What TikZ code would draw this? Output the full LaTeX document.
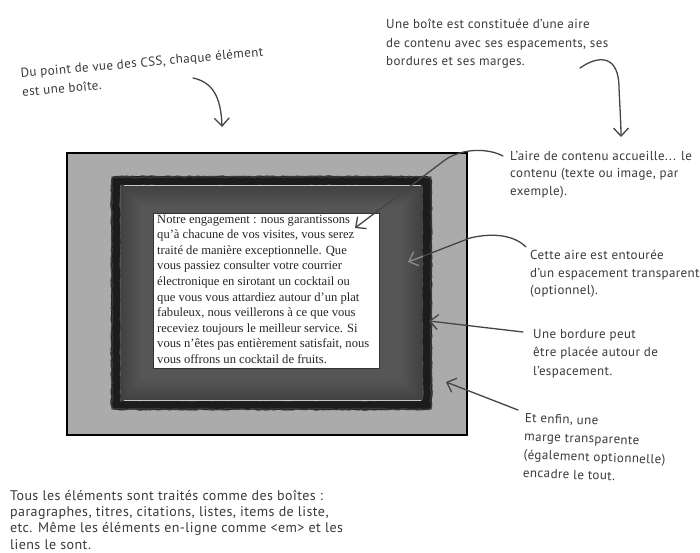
\documentclass[tikz,border=0pt]{standalone}
\usepackage{fontspec}
\setmainfont{Liberation Serif}
\newfontfamily\hand[LetterSpace=3]{PT Sans}
\usetikzlibrary{arrows.meta,decorations.pathmorphing}
\definecolor{notec}{HTML}{3A3A3A}
\definecolor{arrc}{HTML}{454545}
\definecolor{margc}{HTML}{ABABAB}
\definecolor{padc}{HTML}{565656}
\definecolor{bordc}{HTML}{1C1C1C}
\definecolor{txtc}{HTML}{262626}
\begin{document}
\begin{tikzpicture}[x=1pt,y=-1pt,
  note/.style={font=\hand\fontsize{13}{17.5}\selectfont, text=notec, align=left, inner sep=0pt, anchor=north west},
  arr/.style={draw=arrc, line width=1.3pt, line cap=round, -{Straight Barb[length=8pt,width=15pt,line width=1.3pt]}},
  rough/.style={decorate, line join=round, decoration={random steps, segment length=2.5pt, amplitude=0.6pt}},
]
\useasboundingbox (0,0) rectangle (700,553);
\fill[white] (0,0) rectangle (700,553);

% margin
\node[draw=black, line width=2.3pt, fill=margc, minimum width=400pt, minimum height=282pt, inner sep=0pt, outer sep=0pt] (marginbox) at (267,294) {};
% border + padding
\node[draw=bordc, line width=9pt, fill=padc, rough, minimum width=312pt, minimum height=225pt, inner sep=0pt, outer sep=0pt] (borderbox) at (271.5,293) {};
\node[draw=black!75, line width=1.4pt, rough, opacity=0.8, minimum width=319pt, minimum height=232pt, inner sep=0pt] (borderedge) at (271.5,293) {};
\begin{scope}
  \clip (121,186) rectangle (422,400);
  \foreach \w in {4,8,...,40} {
    \draw[black, opacity=0.02, line width=\w pt, line join=round] (121,186) rectangle (422,400);
  }
\end{scope}
\draw[black!22, line width=1pt] (124,185.5) -- (421,185.5);
\draw[black!22, line width=1pt] (124,400) -- (421,400);
% content
\node[draw=black!80, line width=0.9pt, fill=white, minimum width=226pt, minimum height=155pt, inner sep=0pt] (contentbox) at (266,290.5) {};
\node[anchor=north west, inner sep=0pt, align=left, text=txtc, font=\fontsize{12.6}{15.6}\selectfont] (contenttext) at (157,214.5)
{Notre engagement : nous garantissons\\
qu’à chacune de vos visites, vous serez\\
traité de manière exceptionnelle. Que\\
vous passiez consulter votre courrier\\
électronique en sirotant un cocktail ou\\
que vous vous attardiez autour d’un plat\\
fabuleux, nous veillerons à ce que vous\\
receviez toujours le meilleur service. Si\\
vous n’êtes pas entièrement satisfait, nous\\
vous offrons un cocktail de fruits.};

% notes
\node[note, rotate=5, font=\hand\fontsize{13}{19}\selectfont] (n1) at (20,68) {Du point de vue des CSS, chaque élément\\est une boîte.};
\node[note, font=\hand\fontsize{13}{18.5}\selectfont] (n2) at (386,19) {Une boîte est constituée d’une aire\\de contenu avec ses espacements, ses\\bordures et ses marges.};
\node[note] (n3) at (510,151) {L’aire de contenu accueille... le\\contenu (texte ou image, par\\exemple).};
\node[note] (n4) at (530,250) {Cette aire est entourée\\d’un espacement transparent\\(optionnel).};
\node[note, font=\hand\fontsize{13}{18.5}\selectfont] (n5) at (533,329) {Une bordure peut\\être placée autour de\\l’espacement.};
\node[note, rotate=-2, font=\hand\fontsize{13}{18.3}\selectfont] (n6) at (525,413) {Et enfin, une\\marge transparente\\(également optionnelle)\\encadre le tout.};
\node[note, font=\hand\fontsize{14}{16.2}\selectfont] (n7) at (10,490) {Tous les éléments sont traités comme des boîtes :\\paragraphes, titres, citations, listes, items de liste,\\etc. Même les éléments en-ligne comme <em> et les\\liens le sont.};

% arrows
\coordinate (a1s) at (193,78);  \coordinate (a1e) at (222,127);
\coordinate (a2s) at (580,68);  \coordinate (a2e) at (621,137);
\coordinate (a3s) at (503,156); \coordinate (a3e) at (355,228);
\coordinate (a4s) at (526,247); \coordinate (a4e) at (408,262);
\coordinate (a5s) at (523,332); \coordinate (a5e) at (429,321);
\coordinate (a6s) at (518,410); \coordinate (a6e) at (446,382);

\draw[arr] (a1s) .. controls (212,82) and (221,96) .. (a1e);
\draw[arr] (a2s) .. controls (600,54) and (619,56) .. (619,88) .. controls (620,110) and (621,125) .. (a2e);
\draw[arr] (a3s) .. controls (488,148) and (462,148) .. (445,160) -- (a3e);
\draw[arr] (a4s) .. controls (515,236) and (495,232) .. (470,238) -- (a4e);
\begin{scope}
  \clip (122,187) rectangle (423,399);
  \draw[arr, draw=black!45] (a4s) .. controls (515,236) and (495,232) .. (470,238) -- (a4e);
\end{scope}
\draw[arr] (a5s) -- (a5e);
\draw[arr] (a6s) -- (a6e);
\end{tikzpicture}
\end{document}
